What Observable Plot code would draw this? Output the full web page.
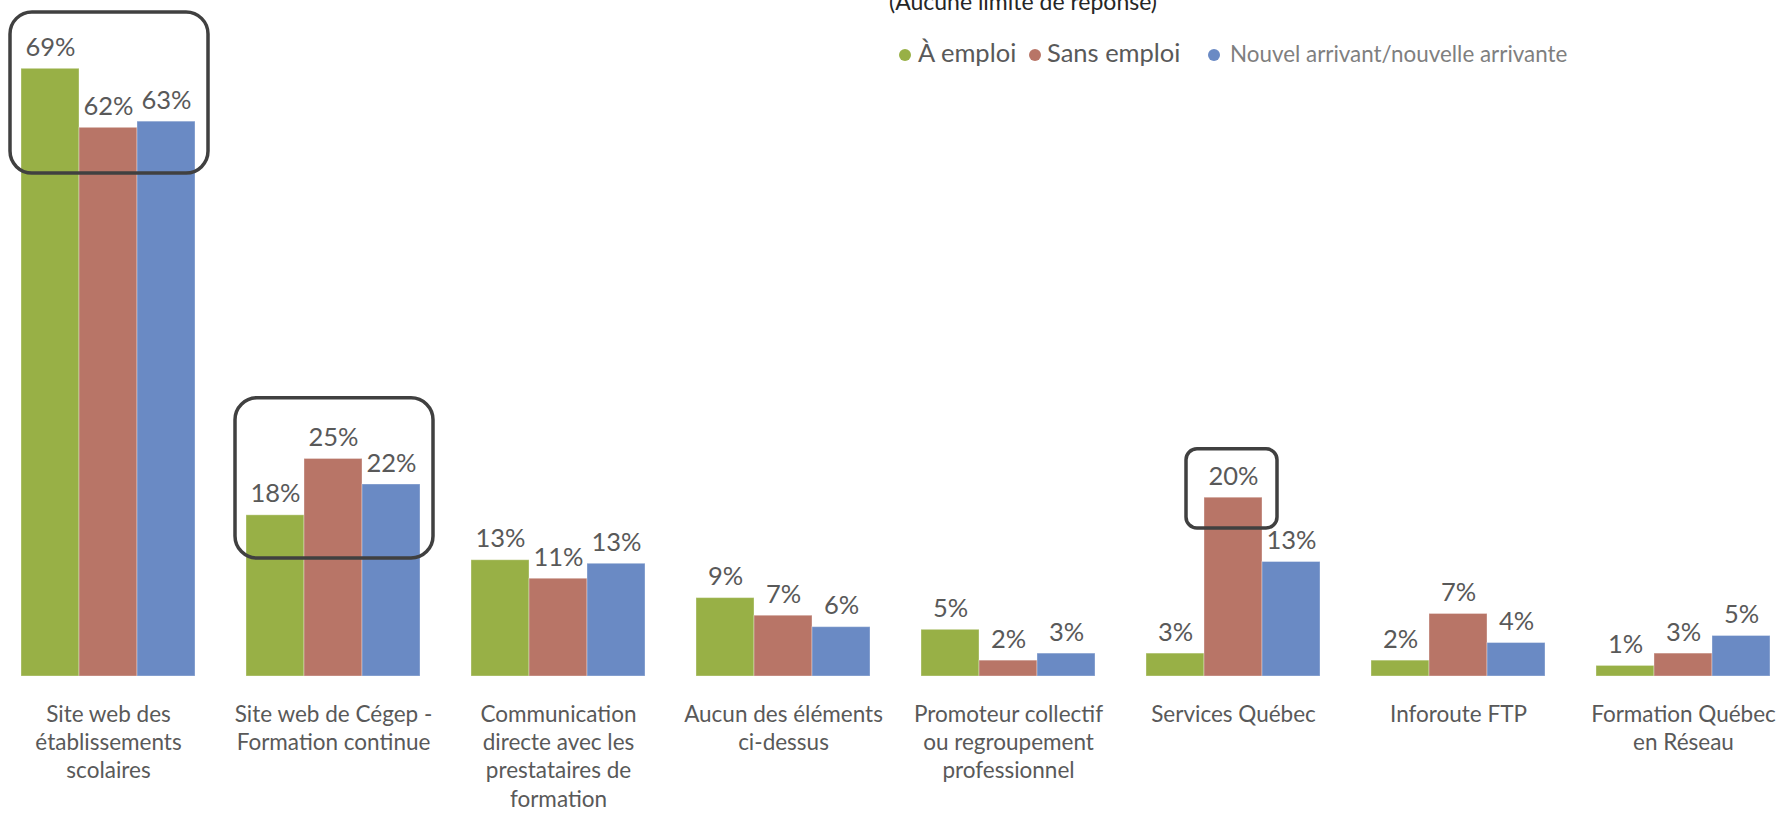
<!DOCTYPE html>
<html><head><meta charset="utf-8">
<script src="https://cdn.jsdelivr.net/npm/d3@7"></script>
<script src="https://cdn.jsdelivr.net/npm/@observablehq/plot@0.6"></script>
<style>
body{margin:0;background:#fff;font-family:Lato,sans-serif;}
#wrap{position:relative;width:1781px;height:814px;overflow:hidden;}
#wrap svg{position:absolute;left:0;top:0;}
.t{position:absolute;white-space:nowrap;line-height:1;}
.dot{position:absolute;border-radius:50%;width:12px;height:12px;}
</style></head><body><div id="wrap"></div>
<script>
const title = "(Aucune limite de réponse)";
const categories = [
  "Site web des établissements scolaires",
  "Site web de Cégep - Formation continue",
  "Communication directe avec les prestataires de formation",
  "Aucun des éléments ci-dessus",
  "Promoteur collectif ou regroupement professionnel",
  "Services Québec",
  "Inforoute FTP",
  "Formation Québec en Réseau"
];
const tickLabels = [
  "Site web des\nétablissements\nscolaires",
  "Site web de Cégep -\nFormation continue",
  "Communication\ndirecte avec les\nprestataires de\nformation",
  "Aucun des éléments\nci-dessus",
  "Promoteur collectif\nou regroupement\nprofessionnel",
  "Services Québec",
  "Inforoute FTP",
  "Formation Québec\nen Réseau"
];
const series = ["À emploi", "Sans emploi", "Nouvel arrivant/nouvelle arrivante"];
const emploi = [69.0, 18.3, 13.2, 8.9, 5.3, 2.6, 1.8, 1.2];
const sansEmploi = [62.3, 24.7, 11.1, 6.9, 1.8, 20.3, 7.1, 2.6];
const nouvelArrivant = [63.0, 21.8, 12.8, 5.6, 2.6, 13.0, 3.8, 4.6];
const colors = ["#98b046", "#b87567", "#6a8ac4"];
// highlighted groups (value range in %)
const groupHighlights = [
  {cat: categories[0], from: 57.1, to: 75.4},
  {cat: categories[1], from: 13.4, to: 31.6}
];
const barHighlights = [
  {cat: categories[5], series: series[1], from: 16.8, to: 25.8}
];

const seriesValues = [emploi, sansEmploi, nouvelArrivant];
const rows = categories.flatMap((c, i) => series.map((s, j) => ({cat: c, series: s, value: seriesValues[j][i]})));

const chart = Plot.plot({
  width: 1781, height: 814,
  marginLeft: 10, marginRight: 0, marginTop: 59.5, marginBottom: 138,
  fx: {domain: categories, paddingInner: 0.22, paddingOuter: 0.0444, axis: null},
  x: {domain: series, padding: 0, axis: null},
  y: {domain: [0, 70], axis: null},
  color: {domain: series, range: colors},
  style: {fontFamily: "Lato, sans-serif", background: "transparent", overflow: "visible"},
  marks: [
    Plot.barY(rows, {fx: "cat", x: "series", y: "value", fill: "series", stroke: "#ffffff", strokeOpacity: 0.35, strokeWidth: 1}),
    Plot.text(rows, {fx: "cat", x: "series", y: "value", text: d => d3.format(".0f")(d.value) + "%", lineAnchor: "bottom", dy: -13, fontSize: 25.5, fill: "#595959"}),
    Plot.text(categories, {fx: d => d, text: (d, i) => tickLabels[i], frameAnchor: "bottom", lineAnchor: "top", dy: 25, fontSize: 22.5, lineHeight: 1.26, fill: "#595959"}),
    Plot.barY(groupHighlights, {fx: "cat", y1: "from", y2: "to", fill: "none", stroke: "#404040", strokeWidth: 3.5, rx: 22, insetLeft: -10, insetRight: -12}),
    Plot.barY(barHighlights, {fx: "cat", x: "series", y1: "from", y2: "to", fill: "none", stroke: "#404040", strokeWidth: 3.5, rx: 11, insetLeft: -18, insetRight: -15})
  ]
});
const wrap = document.getElementById("wrap");
wrap.appendChild(chart);

// title (partly cut at top, as in the reference)
const t = document.createElement("div");
t.className = "t"; t.textContent = title;
Object.assign(t.style, {left: "889px", top: "-10px", fontSize: "23px", color: "#262626"});
wrap.appendChild(t);

// legend
const legendItems = [
  {dot: 905, text: 918, size: 25.5, color: "#595959"},
  {dot: 1035, text: 1047, size: 25.5, color: "#595959"},
  {dot: 1214, text: 1230, size: 22.4, color: "#7f7f7f"}
];
series.forEach((s, i) => {
  const L = legendItems[i];
  const d = document.createElement("div");
  d.className = "dot";
  Object.assign(d.style, {left: (L.dot - 6) + "px", top: "48.5px", background: colors[i]});
  wrap.appendChild(d);
  const s1 = document.createElement("div");
  s1.className = "t"; s1.textContent = s;
  Object.assign(s1.style, {left: L.text + "px", top: (63 - 0.887 * L.size) + "px", fontSize: L.size + "px", color: L.color});
  wrap.appendChild(s1);
});
</script></body></html>
